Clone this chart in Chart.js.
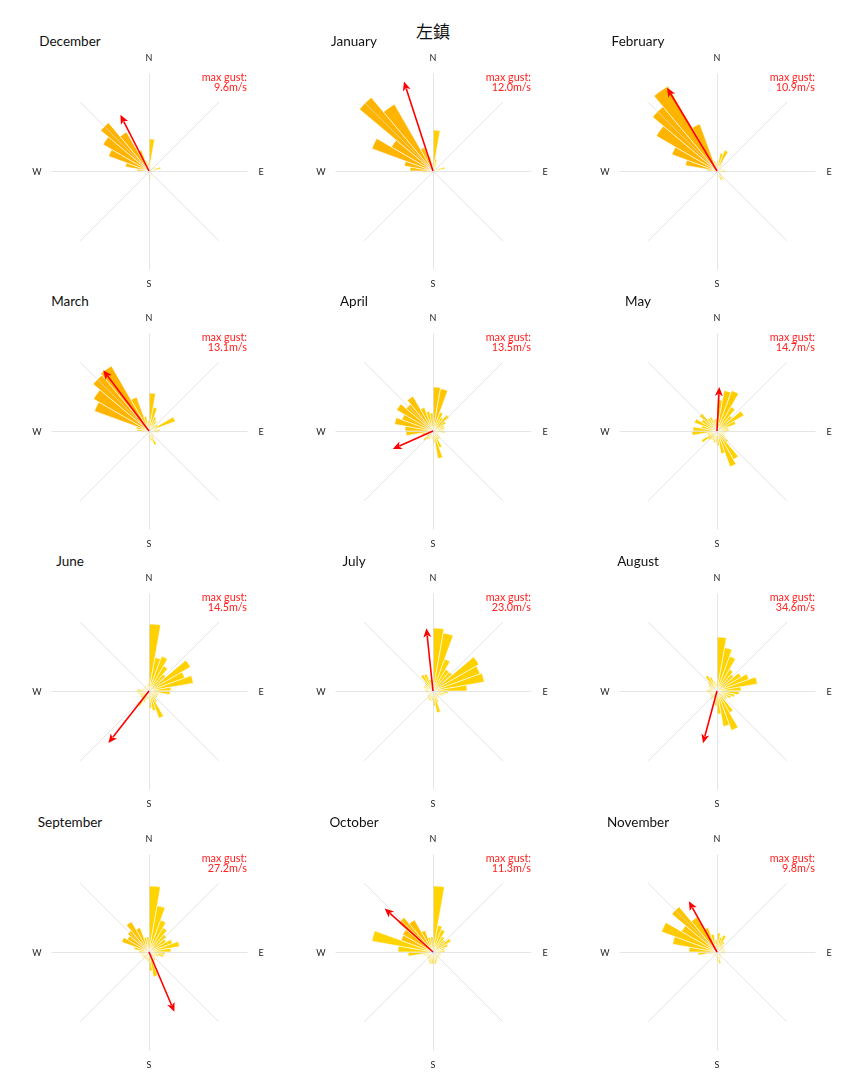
<!DOCTYPE html>
<html><head><meta charset="utf-8">
<script src="https://cdn.jsdelivr.net/npm/chart.js@4"></script>
<style>
body{margin:0;background:#fff;}
#wrap{position:relative;width:864px;height:1080px;overflow:hidden;background:#fff;font-family:Lato,"DejaVu Sans",sans-serif;}
canvas{position:absolute;}
.t{position:absolute;white-space:nowrap;line-height:1;}
</style></head><body><div id="wrap"></div>
<script>
const mainTitle = "左鎮";
const months = ["December","January","February","March","April","May","June","July","August","September","October","November"];
const compass = ["N","E","S","W"];
// 36 direction bins of 10°, starting at N (0–10°) going clockwise; values in % of time
const freqDec = [3.2,0.6,0.4,0.3,0.5,0.6,0.8,1.2,0.6,0.4,0.3,0.3,0.3,0.3,0.4,0.5,0.6,0.9,0.5,0.3,0.3,0.3,0.3,0.3,0.3,0.4,0.5,1.2,2.4,4.3,5.3,6.3,4.5,2.2,1.0,0.8];
const freqJan = [4.1,1.2,0.8,0.5,0.4,0.5,0.6,1.2,0.6,0.4,0.3,0.3,0.3,0.3,0.3,0.3,0.4,0.5,0.4,0.3,0.3,0.3,0.3,0.3,0.4,0.5,1.0,2.3,2.9,6.5,4.8,9.6,7.7,2.5,1.5,0.8];
const freqFeb = [1.0,1.8,2.2,0.8,0.6,0.5,0.5,0.6,0.8,0.9,0.5,0.4,0.4,0.6,1.0,1.0,0.6,0.5,0.4,0.3,0.3,0.3,0.3,0.3,0.3,0.4,0.6,1.0,3.2,4.8,7.0,8.4,9.8,5.0,1.0,0.8];
const freqMar = [3.8,2.4,1.5,1.2,0.8,1.0,2.8,0.8,1.1,1.0,0.5,0.4,0.4,0.5,0.8,1.5,1.0,0.9,0.6,0.4,0.4,0.4,0.4,0.4,0.4,0.5,0.8,1.2,1.3,5.8,6.4,7.3,7.5,3.6,1.5,1.0];
const freqApr = [4.4,4.3,2.0,1.6,2.1,1.5,1.2,1.2,1.0,1.2,0.6,0.6,0.7,1.0,1.0,1.8,2.8,1.2,0.8,0.7,0.9,1.0,1.3,0.8,0.8,1.2,2.7,2.8,3.9,3.3,4.2,3.5,4.0,2.5,2.0,1.8];
const freqMay = [3.1,4.1,4.3,2.8,2.0,3.1,2.0,1.2,1.2,1.0,0.8,0.8,1.0,1.5,3.3,3.8,2.3,1.5,1.2,1.2,1.0,1.0,1.2,1.8,1.0,1.0,2.5,2.4,1.6,2.4,1.8,2.3,1.5,1.5,1.2,1.2];
const freqJun = [6.7,3.4,3.7,2.9,2.2,4.8,3.8,4.5,2.2,2.1,1.0,1.0,1.0,1.0,1.3,2.9,2.0,1.7,0.8,0.8,1.2,1.8,1.0,1.0,1.0,1.0,1.2,1.2,0.7,0.6,0.6,0.6,0.6,0.6,0.7,0.8];
const freqJul = [6.3,5.9,3.4,2.5,2.5,5.3,5.0,5.2,3.4,1.5,1.2,1.0,0.8,0.8,0.8,1.2,2.2,1.5,1.0,1.0,1.0,0.9,0.7,0.6,0.6,0.6,0.8,0.8,0.8,1.0,1.0,1.0,1.9,1.8,1.2,1.2];
const freqAug = [5.4,4.4,3.7,2.5,2.2,2.8,3.4,4.1,2.4,2.2,1.8,1.5,1.2,1.2,2.5,4.2,3.6,2.3,1.5,0.8,0.8,1.0,0.8,0.8,0.8,0.8,1.0,1.0,0.8,0.8,1.0,1.2,1.8,1.5,1.0,0.8];
const freqSep = [6.6,4.7,3.4,2.8,2.3,2.0,2.5,3.1,2.2,1.6,1.5,1.0,0.8,0.8,1.0,1.2,2.5,1.9,1.0,0.8,0.8,0.8,0.8,0.8,0.8,0.8,1.0,1.0,1.5,2.9,2.5,2.8,3.5,2.6,1.5,1.5];
const freqOct = [6.6,2.7,2.4,1.8,1.6,2.1,1.6,1.2,1.2,0.8,0.8,0.8,0.8,0.8,0.8,1.0,1.2,1.2,1.2,1.2,1.0,0.8,0.8,0.8,0.8,1.0,2.5,3.5,6.2,3.4,3.5,4.5,3.7,2.3,1.5,1.5];
const freqNov = [1.9,1.5,1.8,1.2,0.8,0.8,0.8,0.8,0.8,0.8,0.6,0.5,0.5,0.5,0.6,0.8,1.2,1.0,0.6,0.5,0.5,0.5,0.5,0.5,0.6,0.8,1.9,2.8,4.5,5.9,4.1,5.9,4.0,2.6,1.8,1.2];
// mean wind speed per direction bin (m/s), drives the bar colour
const spdDec = [2.2,1.4,1.2,1.2,1.2,1.4,1.5,1.8,1.4,1.2,1.2,1.2,1.2,1.2,1.2,1.3,1.4,1.6,1.3,1.2,1.2,1.2,1.2,1.2,1.2,1.2,1.5,3.0,3.6,4.0,4.0,4.0,4.0,3.4,2.6,2.0];
const spdJan = [2.2,1.8,1.5,1.2,1.2,1.2,1.4,1.8,1.4,1.2,1.2,1.2,1.2,1.2,1.2,1.2,1.2,1.3,1.2,1.2,1.2,1.2,1.2,1.2,1.2,1.4,2.6,3.4,3.8,4.0,4.0,4.0,4.0,3.4,2.4,1.8];
const spdFeb = [2.0,2.2,2.4,1.8,1.5,1.4,1.4,1.4,1.5,1.6,1.3,1.2,1.2,1.4,1.8,1.8,1.4,1.3,1.2,1.2,1.2,1.2,1.2,1.2,1.2,1.3,1.5,2.4,3.8,4.0,4.0,4.0,4.0,3.8,2.4,1.8];
const spdMar = [2.6,2.4,2.2,2.0,1.6,1.8,2.4,1.6,1.8,1.6,1.3,1.2,1.2,1.3,1.6,2.0,1.8,1.6,1.4,1.2,1.2,1.2,1.2,1.2,1.2,1.3,1.6,2.2,2.4,4.0,4.0,4.0,4.0,3.2,2.4,2.0];
const spdApr = [2.8,2.8,2.2,2.0,2.2,2.0,1.8,1.8,1.6,1.8,1.4,1.4,1.4,1.6,1.6,2.0,2.4,1.8,1.5,1.4,1.5,1.6,1.8,1.5,1.5,1.8,2.6,2.8,3.2,3.0,3.2,3.2,3.2,2.6,2.4,2.2];
const spdMay = [2.4,2.5,2.5,2.2,2.0,2.2,2.0,1.8,1.8,1.6,1.5,1.5,1.6,1.8,2.2,2.4,2.2,1.8,1.6,1.6,1.6,1.6,1.8,2.0,1.6,1.6,2.2,2.2,2.0,2.2,2.0,2.2,1.8,1.8,1.8,1.8];
const spdJun = [2.2,2.0,2.0,2.0,2.0,2.2,2.2,2.2,2.0,2.0,1.6,1.6,1.6,1.6,1.8,2.2,2.0,1.8,1.5,1.5,1.6,1.8,1.6,1.6,1.6,1.6,1.6,1.6,1.4,1.4,1.4,1.4,1.4,1.4,1.4,1.5];
const spdJul = [2.2,2.2,2.0,2.0,2.0,2.2,2.2,2.2,2.0,1.8,1.6,1.6,1.5,1.5,1.5,1.6,2.0,1.8,1.6,1.6,1.6,1.5,1.5,1.4,1.4,1.4,1.5,1.5,1.5,1.6,1.6,1.6,2.0,2.0,1.8,1.8];
const spdAug = [2.1,2.0,2.0,2.0,2.0,2.0,2.0,2.1,2.0,2.0,1.8,1.8,1.6,1.6,2.0,2.2,2.2,2.0,1.8,1.5,1.5,1.6,1.5,1.5,1.5,1.5,1.6,1.6,1.5,1.5,1.6,1.8,2.0,1.8,1.6,1.5];
const spdSep = [2.0,2.0,2.0,2.0,2.0,2.0,2.0,2.0,2.0,1.8,1.8,1.6,1.6,1.6,1.6,1.8,2.2,2.0,1.6,1.5,1.5,1.5,1.5,1.5,1.5,1.5,1.6,1.8,2.4,3.0,3.0,3.0,3.0,2.8,2.2,2.0];
const spdOct = [2.0,2.0,2.0,1.8,1.8,1.8,1.8,1.6,1.6,1.5,1.5,1.5,1.5,1.5,1.5,1.6,1.8,1.8,1.8,1.8,1.6,1.5,1.5,1.5,1.5,1.6,2.0,2.0,2.0,3.2,3.4,3.4,3.4,3.0,2.4,2.2];
const spdNov = [2.0,2.0,2.0,1.8,1.5,1.5,1.5,1.5,1.5,1.5,1.4,1.4,1.4,1.4,1.4,1.5,1.8,1.6,1.4,1.4,1.4,1.4,1.4,1.4,1.4,1.5,2.0,2.4,2.6,2.6,2.8,3.0,2.8,2.6,2.2,1.8];
// max gust: speed label, direction it blows toward (deg), arrow length (same units as bars)
const gustSpeed = ["9.6","12.0","10.9","13.1","13.5","14.7","14.5","23.0","34.6","27.2","11.3","9.8"];
const gustDir = [333,342,329,323,246,3,218,354,195,157,312,331];
const gustLen = [6.3,9.4,9.7,7.6,4.4,4.4,6.6,6.3,5.4,6.5,6.5,5.8];

const freqs = [freqDec,freqJan,freqFeb,freqMar,freqApr,freqMay,freqJun,freqJul,freqAug,freqSep,freqOct,freqNov];
const speeds = [spdDec,spdJan,spdFeb,spdMar,spdApr,spdMay,spdJun,spdJul,spdAug,spdSep,spdOct,spdNov];
const dirLabels = Array.from({length:36},(_,i)=>(i*10)+"°");

const colCx = [149,433,717];
const rowCy = [171,431,691,952];
const SIZE = 240, RMAX = 12, GRID = 9.8;

function speedColor(s){
  const stops=[[1.2,[255,229,112]],[2.0,[255,212,0]],[3.0,[255,196,0]],[4.0,[255,181,0]]];
  if(s<=stops[0][0]) return `rgb(${stops[0][1].join(',')})`;
  for(let i=1;i<stops.length;i++){
    if(s<=stops[i][0]){
      const t=(s-stops[i-1][0])/(stops[i][0]-stops[i-1][0]);
      const a=stops[i-1][1], b=stops[i][1];
      return `rgb(${a.map((v,k)=>Math.round(v+(b[k]-v)*t)).join(',')})`;
    }
  }
  return `rgb(${stops[3][1].join(',')})`;
}

const wrap=document.getElementById('wrap');
function addText(txt,x,y,size,color,align,family){
  const d=document.createElement('div');
  d.className='t'; d.textContent=txt;
  d.style.left=x+'px'; d.style.top=y+'px';
  d.style.fontSize=size+'px'; d.style.color=color;
  if(family) d.style.fontFamily=family;
  d.style.transform = align==='right' ? 'translate(-100%,-50%)' : (align==='left' ? 'translate(0,-50%)' : 'translate(-50%,-50%)');
  wrap.appendChild(d); return d;
}

addText(mainTitle,433,30,17,'#111','center','"Noto Sans CJK TC","Noto Sans CJK SC",sans-serif');

const roseDecor = {
  id:'roseDecor',
  afterDatasetsDraw(chart, args, opts){
    const s=chart.scales.r, ctx=chart.ctx;
    const cx=s.xCenter+0.5, cy=s.yCenter+0.5;
    const R=s.getDistanceFromCenterForValue(GRID);
    ctx.save();
    ctx.strokeStyle='rgba(215,215,215,0.65)'; ctx.lineWidth=1;
    for(let k=0;k<8;k++){
      const a=k*Math.PI/4;
      ctx.beginPath(); ctx.moveTo(cx,cy);
      ctx.lineTo(cx+R*Math.sin(a), cy-R*Math.cos(a)); ctx.stroke();
    }
    // gust arrow
    const a=opts.dir*Math.PI/180, L=s.getDistanceFromCenterForValue(opts.len);
    const tx=s.xCenter+L*Math.sin(a), ty=s.yCenter-L*Math.cos(a);
    const ux=Math.sin(a), uy=-Math.cos(a);
    const hl=9, hw=4;
    ctx.strokeStyle='#ff0000'; ctx.fillStyle='#ff0000'; ctx.lineWidth=1.6;
    ctx.beginPath(); ctx.moveTo(s.xCenter,s.yCenter); ctx.lineTo(tx-ux*hl*0.8, ty-uy*hl*0.8); ctx.stroke();
    ctx.beginPath(); ctx.moveTo(tx,ty);
    ctx.lineTo(tx-ux*hl-uy*hw, ty-uy*hl+ux*hw);
    ctx.lineTo(tx-ux*hl*0.75, ty-uy*hl*0.75);
    ctx.lineTo(tx-ux*hl+uy*hw, ty-uy*hl-ux*hw);
    ctx.closePath(); ctx.fill();
    ctx.restore();
  }
};

months.forEach((m,i)=>{
  const cx=colCx[i%3], cy=rowCy[Math.floor(i/3)];
  const c=document.createElement('canvas');
  c.width=SIZE; c.height=SIZE;
  c.style.left=(cx-SIZE/2)+'px'; c.style.top=(cy-SIZE/2)+'px';
  c.style.width=SIZE+'px'; c.style.height=SIZE+'px';
  wrap.appendChild(c);
  new Chart(c,{
    type:'polarArea',
    data:{labels:dirLabels,datasets:[{data:freqs[i],backgroundColor:speeds[i].map(speedColor),borderColor:'#ffffff',borderWidth:0.6,clip:false}]},
    options:{
      responsive:false, animation:false, devicePixelRatio:1,
      layout:{padding:0},
      plugins:{legend:{display:false},tooltip:{enabled:false},roseDecor:{dir:gustDir[i],len:gustLen[i]}},
      scales:{r:{min:0,max:RMAX,startAngle:0,ticks:{display:false},grid:{display:false},angleLines:{display:false},pointLabels:{display:false}}}
    },
    plugins:[roseDecor]
  });
  addText(m,cx-79,cy-129,13.5,'#111','center');
  addText(compass[0],cx,cy-114,9,'#222','center');
  addText(compass[1],cx+112,cy,9,'#222','center');
  addText(compass[2],cx,cy+112,9,'#222','center');
  addText(compass[3],cx-112,cy,9,'#222','center');
  addText('max gust:',cx+98,cy-94,10.8,'#ff2020','right');
  addText(gustSpeed[i]+'m/s',cx+98,cy-84,10.8,'#ff2020','right');
});
</script></body></html>
